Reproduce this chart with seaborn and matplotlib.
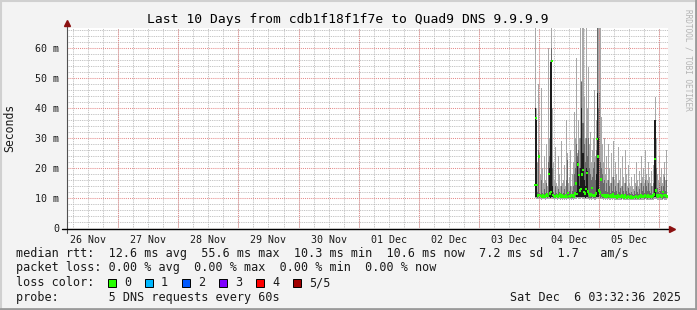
import numpy as np
import pandas as pd
import matplotlib
matplotlib.use("Agg")
import matplotlib.pyplot as plt
import matplotlib.dates as mdates
from matplotlib.ticker import MultipleLocator, FuncFormatter
from matplotlib.patches import Rectangle
from matplotlib.lines import Line2D
import seaborn as sns

# ---------------- data (ms), one sample per 24 min, starting 2025-12-03 22:24 ----------------
first_sample = "2025-12-03 22:24:00"
sample_step = "24min"
graph_end = "2025-12-06 03:32:36"

ping_min = [
    9.8, 9.9, 9.7, 9.6, 9.8, 9.6, 9.7, 9.5, 9.6, 9.7,
    9.6, 9.5, 9.7, 9.6, 9.8, 9.7, 9.6, 9.9, 9.7, 9.6,
    9.5, 9.6, 9.7, 9.5, 9.6, 9.7, 9.5, 9.6, 9.5, 9.6,
    9.5, 9.6, 9.5, 9.8, 9.6, 9.5, 9.6, 9.5, 9.6, 9.5,
    9.6, 9.8, 9.7, 9.9, 9.8, 9.7, 9.8, 9.9, 9.8, 9.7,
    9.6, 9.8, 9.7, 9.6, 9.5, 9.6, 9.5, 9.7, 9.6, 9.5,
    9.5, 9.7, 9.9, 9.8, 9.7, 9.6, 9.8, 9.6, 9.5, 9.6,
    9.5, 9.6, 9.4, 9.6, 9.5, 9.4, 9.6, 9.5, 9.7, 9.4,
    9.5, 9.4, 9.3, 9.5, 9.4, 9.5, 9.3, 9.6, 9.4, 9.3,
    9.5, 9.4, 9.3, 9.4, 9.3, 9.2, 9.4, 9.3, 9.2, 9.4,
    9.3, 9.5, 9.4, 9.3, 9.4, 9.3, 9.5, 9.4, 9.5, 9.3,
    9.6, 9.4, 9.3, 9.5, 9.4, 9.3, 9.5, 9.3, 9.5, 9.7,
    9.8, 9.6, 9.5, 9.4, 9.5, 9.4, 9.5, 9.3, 9.6, 9.5,
    9.4, 9.5, 9.3,
]
inner_lo = [
    10.3, 10.4, 10.2, 10.1, 10.3, 10.1, 10.2, 10.0, 10.1, 10.2,
    10.1, 10.0, 10.2, 10.1, 10.3, 10.2, 10.1, 10.4, 10.2, 10.1,
    10.0, 10.1, 10.2, 10.0, 10.1, 10.2, 10.0, 10.1, 10.0, 10.1,
    10.0, 10.1, 10.0, 10.3, 10.1, 10.0, 10.1, 10.0, 10.1, 10.0,
    10.1, 10.3, 10.2, 10.4, 10.3, 10.2, 10.3, 10.4, 10.3, 10.2,
    10.1, 10.3, 10.2, 10.1, 10.0, 10.1, 10.0, 10.2, 10.1, 10.0,
    10.0, 10.2, 10.4, 10.3, 10.2, 10.1, 10.3, 10.1, 10.0, 10.1,
    10.0, 10.1, 9.9, 10.1, 10.0, 9.9, 10.1, 10.0, 10.2, 9.9,
    10.0, 9.9, 9.8, 10.0, 9.9, 10.0, 9.8, 10.1, 9.9, 9.8,
    10.0, 9.9, 9.8, 9.9, 9.8, 9.7, 9.9, 9.8, 9.7, 9.9,
    9.8, 10.0, 9.9, 9.8, 9.9, 9.8, 10.0, 9.9, 10.0, 9.8,
    10.1, 9.9, 9.8, 10.0, 9.9, 9.8, 10.0, 9.8, 10.0, 10.2,
    10.3, 10.1, 10.0, 9.9, 10.0, 9.9, 10.0, 9.8, 10.1, 10.0,
    9.9, 10.0, 9.8,
]
median = [
    14.3, 36.6, 14.3, 10.8, 23.8, 11.0, 10.6, 10.4, 10.9, 10.5,
    10.5, 10.8, 11.2, 10.6, 18.0, 11.5, 12.0, 55.6, 11.0, 10.7,
    10.4, 10.6, 10.9, 10.3, 10.7, 11.1, 10.5, 10.8, 10.4, 10.6,
    10.5, 10.9, 10.4, 11.6, 10.7, 10.3, 10.8, 10.6, 11.0, 10.5,
    11.5, 14.9, 11.3, 21.2, 17.7, 12.5, 13.0, 17.9, 19.3, 12.0,
    11.5, 13.0, 18.3, 12.2, 11.4, 10.9, 11.2, 13.3, 10.8, 11.0,
    10.6, 11.5, 29.6, 23.9, 12.5, 11.8, 16.2, 11.0, 10.7, 10.9,
    10.5, 10.8, 10.4, 11.0, 10.6, 10.3, 10.9, 10.5, 11.2, 10.4,
    10.7, 10.5, 10.2, 10.8, 10.4, 10.6, 10.3, 10.9, 10.5, 10.2,
    10.8, 10.4, 10.1, 10.6, 10.3, 10.2, 10.5, 10.2, 10.0, 10.4,
    10.3, 10.6, 10.4, 10.2, 10.5, 10.3, 10.8, 10.5, 10.7, 10.3,
    10.9, 10.6, 10.4, 11.0, 10.5, 10.3, 10.7, 10.4, 10.8, 11.2,
    23.0, 12.5, 10.8, 10.5, 11.0, 10.6, 10.9, 10.5, 12.0, 11.0,
    10.6, 10.8, 10.5,
]
mid_hi = [
    37, 40, 36, 12.0, 26, 11.8, 11.5, 16, 11.6, 11.4,
    13, 11.6, 15, 11.4, 22, 24, 55.4, 60, 20, 12.0,
    11.5, 14, 11.8, 11.2, 13, 12.0, 11.3, 14, 11.5, 11.8,
    13, 11.4, 16, 22.7, 11.8, 12.2, 14, 11.3, 12.5, 14,
    18, 20, 28, 24, 26, 20, 30, 48.8, 35, 28,
    22, 30, 24, 30, 20, 18, 16, 17, 20, 22,
    16, 26, 67, 40, 45, 22, 20, 18, 15, 16,
    12.5, 15, 12.0, 16, 14, 11.6, 15, 12.5, 17, 12.0,
    14, 12.5, 11.5, 15, 12.0, 13.5, 11.4, 14, 12.5, 11.5,
    15, 12.5, 11.3, 13.5, 11.6, 11.2, 12.0, 11.3, 11.0, 12.5,
    11.5, 14, 12.0, 11.5, 13, 11.5, 15, 12.5, 14, 11.6,
    16, 14, 12.5, 15, 12.5, 11.6, 14, 11.5, 15, 18,
    30, 20, 13.5, 12.0, 15, 12.5, 14, 11.6, 14, 17,
    12.5, 16, 11.6,
]
core_hi = [
    37, 40, 36, 0, 0, 0, 0, 0, 0, 0,
    0, 0, 0, 0, 18, 20, 55.4, 55.6, 14, 0,
    0, 0, 0, 0, 0, 0, 0, 0, 0, 0,
    0, 0, 0, 22.7, 0, 0, 0, 0, 0, 0,
    0, 16, 12, 22, 18, 14, 20, 40, 25, 16,
    14, 20, 19, 15, 0, 0, 0, 14, 0, 0,
    0, 18, 45, 30, 25, 0, 16, 0, 0, 0,
    0, 0, 0, 0, 0, 0, 0, 0, 0, 0,
    0, 0, 0, 0, 0, 0, 0, 0, 0, 0,
    0, 0, 0, 0, 0, 0, 0, 0, 0, 0,
    0, 0, 0, 0, 0, 0, 0, 0, 0, 0,
    0, 0, 0, 0, 0, 0, 0, 0, 0, 36,
    36, 20, 0, 0, 0, 0, 0, 0, 0, 17,
    0, 0, 0,
]
ping_max = [
    38, 67, 40, 22, 48, 25, 18, 46.7, 20, 15,
    24, 16, 28, 14, 60, 30, 56, 67, 40, 22,
    16, 27, 15, 14, 24, 18, 14, 29, 15, 16,
    21, 14, 36, 25, 15, 17, 26, 14, 18, 22,
    38.8, 30, 56.7, 25, 36, 30, 67, 49, 67, 44,
    30, 67, 40, 53.8, 28, 32, 22, 26, 30, 46,
    24, 36, 67, 67, 67, 67, 37, 28, 22, 30,
    18, 24, 16, 28, 20, 15, 25, 17, 29, 16,
    22, 18, 15, 27, 16, 20, 14, 24, 17, 15,
    26, 18, 14, 21, 15, 14, 17, 14, 13, 18,
    15, 22, 16, 14, 19, 15, 24, 17, 20, 15,
    26, 18, 16, 22, 17, 15, 19, 14, 21, 26,
    43.8, 30, 18, 16, 24, 17, 20, 15, 18, 22,
    16, 26, 14,
]

title = "Last 10 Days from cdb1f18f1f7e to Quad9 DNS 9.9.9.9"
y_label = "Seconds"
y_ticks = [0, 10, 20, 30, 40, 50, 60]
legend_rows = [
    "median rtt:  12.6 ms avg  55.6 ms max  10.3 ms min  10.6 ms now  7.2 ms sd  1.7   am/s",
    "packet loss: 0.00 % avg  0.00 % max  0.00 % min  0.00 % now",
    "loss color:",
    "probe:       5 DNS requests every 60s",
]
loss_labels = ["0", "1", "2", "3", "4", "5/5"]
loss_colors = ["#26ff00", "#00b8ff", "#0059ff", "#7e00ff", "#ff0000", "#a00000"]
timestamp_text = "Sat Dec  6 03:32:36 2025"
watermark = "RRDTOOL / TOBI OETIKER"

# ---------------- build ----------------
n = len(median)
times = pd.date_range(first_sample, periods=n, freq=sample_step)
df = pd.DataFrame({"time": times, "min": ping_min, "lo": inner_lo, "median": median,
                   "mid": mid_hi, "core": core_hi, "max": ping_max})
end = pd.Timestamp(graph_end)
start = end - pd.Timedelta(days=10)

sns.set_style("white")
plt.rcParams["font.family"] = ["DejaVu Sans Mono"]

W, H = 697, 310
fig = plt.figure(figsize=(W / 100, H / 100), dpi=100, facecolor="#f3f3f3")
ax = fig.add_axes([67 / W, (H - 228) / H, 601 / W, 200 / H])
ax.set_facecolor("white")

x = mdates.date2num(df["time"].dt.to_pydatetime())
ax.fill_between(x, df["min"], df["max"], step="mid", color="#a8a8a8", lw=0, zorder=2)
ax.fill_between(x, df["lo"], df["mid"], where=df["mid"] > df["lo"], step="mid",
                color="#6a6a6a", lw=0, zorder=3)
ax.fill_between(x, df["lo"], df["core"], where=df["core"] > df["lo"], step="mid",
                color="#1c1c1c", lw=0, zorder=4)
df["tnum"] = x
sns.scatterplot(data=df, x="tnum", y="median", marker="s", s=3.2, color="#26ff00",
                edgecolor="none", linewidth=0, ax=ax, zorder=6, legend=False)

ax.set_xlim(mdates.date2num(start.to_pydatetime()), mdates.date2num(end.to_pydatetime()))
ax.set_ylim(0, 200 / 3)

# grid
dot = (0, (1, 1))
ax.xaxis.remove_overlapping_locs = False
ax.xaxis.set_major_locator(mdates.HourLocator(byhour=[12]))
ax.xaxis.set_major_formatter(mdates.DateFormatter("%d %b"))
ax.xaxis.set_minor_locator(mdates.HourLocator(byhour=[0, 6, 12, 18]))
ax.yaxis.set_major_locator(MultipleLocator(10))
ax.yaxis.set_minor_locator(MultipleLocator(2))
ax.yaxis.set_major_formatter(FuncFormatter(lambda v, p: "0" if v == 0 else f"{v:.0f} m"))
ax.set_yticks(y_ticks)
ax.grid(which="minor", axis="both", color="#b8b8b8", linestyle=dot, lw=0.65, zorder=5)
ax.grid(which="major", axis="y", color="#e48c8c", linestyle=dot, lw=0.75, zorder=5)
ax.grid(which="major", axis="x", visible=False)
for d in pd.date_range(start.normalize() + pd.Timedelta(days=1), end, freq="D"):
    ax.axvline(mdates.date2num(d.to_pydatetime()), color="#e48c8c", linestyle=dot, lw=0.75, zorder=5)

ax.tick_params(axis="x", which="major", length=0, pad=5, labelsize=7.2, labelcolor="#1a1a1a")
ax.tick_params(axis="x", which="minor", length=0)
ax.tick_params(axis="y", which="major", direction="inout", length=3, width=0.7, color="#404040",
               pad=4, labelsize=7.2, labelcolor="#1a1a1a")
ax.tick_params(axis="y", which="minor", direction="inout", length=2, width=0.6, color="#606060")
ax.set_xlabel("")
ax.set_ylabel("")
for s in ax.spines.values():
    s.set_visible(False)

# axis lines + arrows (pixel coords)
fig.add_artist(Line2D([67 / W, 67 / W], [1 - 233 / H, 1 - 24 / H], color="#505050", lw=0.8))
fig.add_artist(Line2D([62 / W, 670 / W], [1 - 228.5 / H, 1 - 228.5 / H], color="#000000", lw=1.0))
fig.add_artist(Line2D([67 / W], [1 - 23 / H], marker="^", markersize=4.2, color="#8b1010", lw=0))
fig.add_artist(Line2D([672 / W], [1 - 228.5 / H], marker=">", markersize=4.2, color="#8b1010", lw=0))

# texts
fig.text(348 / W, 1 - 19 / H, title, ha="center", va="center", fontsize=9.4, color="#000000")
fig.text(10 / W, 1 - 128 / H, y_label, ha="center", va="center", rotation=90, fontsize=8.3,
         color="#1a1a1a")
fig.text(688 / W, 1 - 60 / H, watermark, ha="center", va="center", rotation=270, fontsize=5.6,
         color="#b4b4b4")

row_y = [253, 268, 283, 297.5]
for txt, yy in zip(legend_rows, row_y):
    fig.text(16 / W, 1 - yy / H, txt, ha="left", va="center", fontsize=8.5, color="#1a1a1a")
fig.text(681 / W, 1 - row_y[3] / H, timestamp_text, ha="right", va="center", fontsize=8.5,
         color="#1a1a1a")
for i, (lab, col) in enumerate(zip(loss_labels, loss_colors)):
    bx = 108 + i * 37
    fig.add_artist(Rectangle((bx / W, 1 - (row_y[2] + 4) / H), 8 / W, 8 / H, facecolor=col,
                             edgecolor="#000000", lw=0.7, transform=fig.transFigure))
    fig.text((bx + 16) / W, 1 - row_y[2] / H, lab, ha="left", va="center", fontsize=8.5,
             color="#1a1a1a")

# frame
fig.add_artist(Line2D([0, 1], [1 - 1 / H, 1 - 1 / H], color="#d0d0d0", lw=1.5))
fig.add_artist(Line2D([1 / W, 1 / W], [0, 1], color="#d0d0d0", lw=1.5))
fig.add_artist(Line2D([1 - 1.5 / W, 1 - 1.5 / W], [0, 1], color="#9a9a9a", lw=2))
fig.add_artist(Line2D([0, 1], [1.5 / H, 1.5 / H], color="#9a9a9a", lw=2))

fig.savefig("out.png", dpi=100, facecolor=fig.get_facecolor())
